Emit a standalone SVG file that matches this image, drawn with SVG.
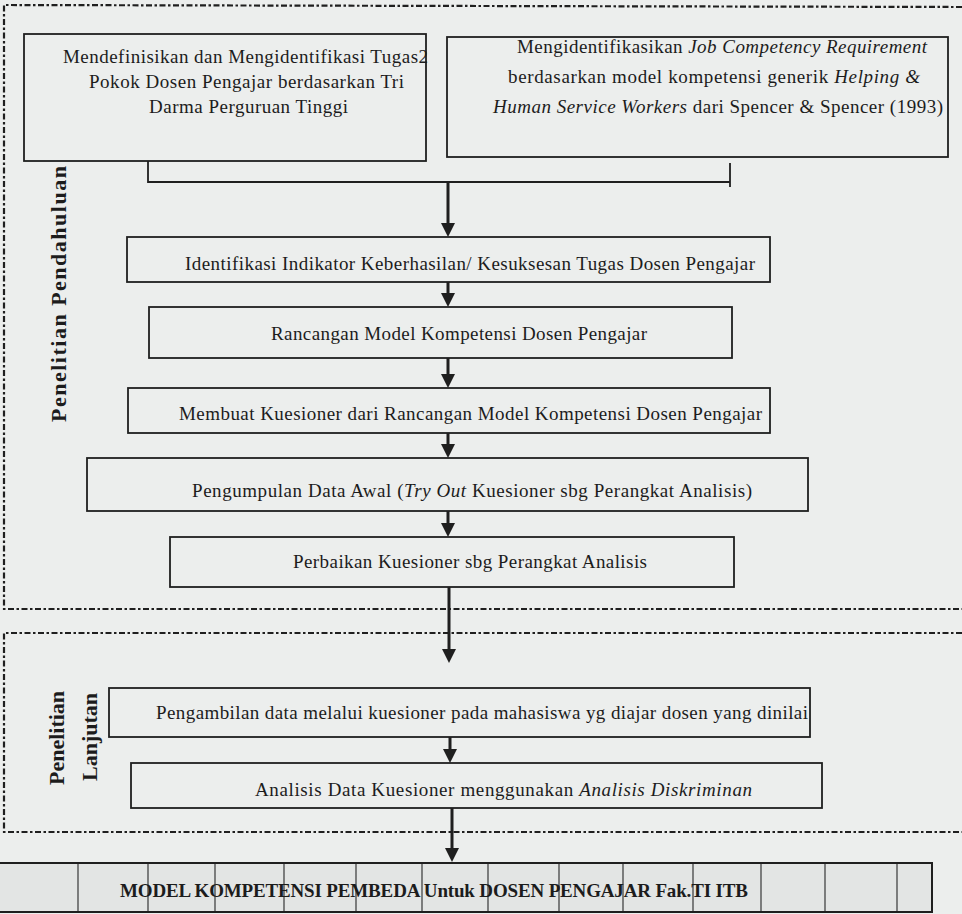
<svg xmlns="http://www.w3.org/2000/svg" width="962" height="914" viewBox="0 0 962 914">
<style>
  .bg{fill:#eceeed}
  .sec{fill:none;stroke:#1f1f1f;stroke-width:2.2;stroke-dasharray:6 2.5 2.5 2.5}
  .box{fill:none;stroke:#1f1f1f;stroke-width:1.8}
  .t{font-family:"Liberation Serif","Times New Roman",serif;font-size:19px;fill:#1c1c1c}
  .it{font-style:italic}
  .lab{font-family:"Liberation Serif","Times New Roman",serif;font-size:22px;font-weight:bold;fill:#1c1c1c}
  .arr{fill:none;stroke:#1f1f1f;stroke-width:3}
  .br{fill:none;stroke:#1f1f1f;stroke-width:1.8}
  .col{stroke:#444;stroke-width:1.3}
  .tb{font-family:"Liberation Serif","Times New Roman",serif;font-size:19px;font-weight:bold;fill:#1c1c1c}
</style>
<defs>
  <marker id="ah" viewBox="0 0 14 14" refX="6" refY="7" markerWidth="14" markerHeight="14" markerUnits="userSpaceOnUse" orient="auto">
    <path d="M0,0 L14,7 L0,14 z" fill="#1f1f1f"/>
  </marker>
</defs>
<rect class="bg" x="0" y="0" width="962" height="914"/>

<g id="sections">
  <path class="sec" d="M962,7 L4,5 L4,609 L962,609"/>
  <path class="sec" d="M962,633 L4,633 L4,832 L962,832"/>
  <text class="lab" transform="translate(66,294) rotate(-90)" text-anchor="middle" textLength="256" lengthAdjust="spacing">Penelitian Pendahuluan</text>
  <text class="lab" transform="translate(64,738) rotate(-90)" text-anchor="middle">Penelitian</text>
  <text class="lab" transform="translate(97,737) rotate(-90)" text-anchor="middle">Lanjutan</text>
</g>

<g id="n1">
  <rect class="box" x="24" y="34" width="402" height="127"/>
  <text class="t" x="63" y="63" textLength="365" lengthAdjust="spacing">Mendefinisikan dan Mengidentifikasi Tugas2</text>
  <text class="t" x="89" y="88" textLength="315" lengthAdjust="spacing">Pokok Dosen Pengajar berdasarkan Tri</text>
  <text class="t" x="149" y="113" textLength="199" lengthAdjust="spacing">Darma Perguruan Tinggi</text>
</g>

<g id="n2">
  <rect class="box" x="447" y="37" width="501" height="120"/>
  <text class="t" x="517" y="53" textLength="410" lengthAdjust="spacing">Mengidentifikasikan <tspan class="it">Job Competency Requirement</tspan></text>
  <text class="t" x="508" y="83" textLength="412" lengthAdjust="spacing">berdasarkan model kompetensi  generik <tspan class="it">Helping &amp;</tspan></text>
  <text class="t" x="493" y="113" textLength="450" lengthAdjust="spacing"><tspan class="it">Human Service Workers</tspan> dari Spencer &amp; Spencer (1993)</text>
</g>

<g id="n3">
  <rect class="box" x="127" y="237" width="643" height="45"/>
  <text class="t" x="185" y="270" textLength="570" lengthAdjust="spacing">Identifikasi Indikator Keberhasilan/ Kesuksesan Tugas Dosen Pengajar</text>
</g>

<g id="n4">
  <rect class="box" x="149" y="307" width="583" height="51"/>
  <text class="t" x="271" y="340" textLength="376" lengthAdjust="spacing">Rancangan Model Kompetensi Dosen Pengajar</text>
</g>

<g id="n5">
  <rect class="box" x="128" y="388" width="642" height="45"/>
  <text class="t" x="179" y="420" textLength="583" lengthAdjust="spacing">Membuat Kuesioner dari Rancangan Model Kompetensi Dosen Pengajar</text>
</g>

<g id="n6">
  <rect class="box" x="87" y="458" width="721" height="53"/>
  <text class="t" x="192" y="497" textLength="560" lengthAdjust="spacing">Pengumpulan Data Awal (<tspan class="it">Try Out</tspan> Kuesioner sbg Perangkat Analisis)</text>
</g>

<g id="n7">
  <rect class="box" x="170" y="537" width="564" height="50"/>
  <text class="t" x="293" y="568" textLength="354" lengthAdjust="spacing">Perbaikan Kuesioner sbg Perangkat Analisis</text>
</g>

<g id="n8">
  <rect class="box" x="109" y="688" width="701" height="49"/>
  <text class="t" x="156" y="719" textLength="652" lengthAdjust="spacing">Pengambilan data melalui kuesioner pada mahasiswa yg diajar dosen yang dinilai</text>
</g>

<g id="n9">
  <rect class="box" x="131" y="763" width="691" height="45"/>
  <text class="t" x="255" y="796" textLength="497" lengthAdjust="spacing">Analisis Data Kuesioner menggunakan <tspan class="it">Analisis Diskriminan</tspan></text>
</g>

<g id="n10">
  <rect x="0" y="863" width="932" height="49" fill="#e3e5e4"/>
  <g class="col">
    <line x1="78" y1="863" x2="78" y2="912"/>
    <line x1="148" y1="863" x2="148" y2="912"/>
    <line x1="215" y1="863" x2="215" y2="912"/>
    <line x1="284" y1="863" x2="284" y2="912"/>
    <line x1="356" y1="863" x2="356" y2="912"/>
    <line x1="422" y1="863" x2="422" y2="912"/>
    <line x1="488" y1="863" x2="488" y2="912"/>
    <line x1="559" y1="863" x2="559" y2="912"/>
    <line x1="623" y1="863" x2="623" y2="912"/>
    <line x1="693" y1="863" x2="693" y2="912"/>
    <line x1="761" y1="863" x2="761" y2="912"/>
    <line x1="825" y1="863" x2="825" y2="912"/>
    <line x1="897" y1="863" x2="897" y2="912"/>
  </g>
  <path d="M0,863 L932,863 L932,912 L0,912" fill="none" stroke="#1f1f1f" stroke-width="2"/>
  <text class="tb" x="120" y="897" textLength="628" lengthAdjust="spacing">MODEL KOMPETENSI PEMBEDA Untuk DOSEN PENGAJAR Fak.TI ITB</text>
</g>

<g id="connectors">
  <path class="br" d="M148,161 L148,182 L730,182 M730,163 L730,187"/>
  <line class="arr" x1="448" y1="183" x2="448" y2="229" marker-end="url(#ah)"/>
  <line class="arr" x1="448" y1="282" x2="448" y2="299" marker-end="url(#ah)"/>
  <line class="arr" x1="448" y1="358" x2="448" y2="380" marker-end="url(#ah)"/>
  <line class="arr" x1="448" y1="433" x2="448" y2="450" marker-end="url(#ah)"/>
  <line class="arr" x1="448" y1="511" x2="448" y2="529" marker-end="url(#ah)"/>
  <line class="arr" x1="449" y1="587" x2="449" y2="655" marker-end="url(#ah)"/>
  <line class="arr" x1="450" y1="737" x2="450" y2="755" marker-end="url(#ah)"/>
  <line class="arr" x1="452" y1="808" x2="452" y2="854" marker-end="url(#ah)"/>
</g>
</svg>
